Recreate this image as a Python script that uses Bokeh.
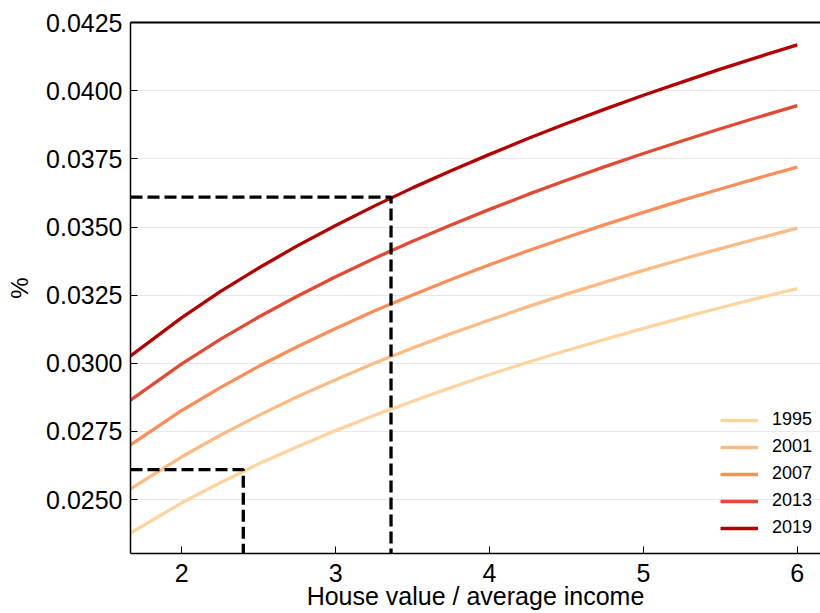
from bokeh.plotting import figure
from bokeh.models import (Range1d, FixedTicker, NumeralTickFormatter, Legend,
                          LegendItem, LinearAxis)
from bokeh.embed import file_html
from bokeh.resources import INLINE

# ---------------- data ----------------
x_values = [1.667, 2.0, 2.25, 2.5, 2.75, 3.0, 3.25, 3.5, 3.75, 4.0,
            4.25, 4.5, 4.75, 5.0, 5.25, 5.5, 5.75, 6.0]
years = ["1995", "2001", "2007", "2013", "2019"]
rate_1995 = [0.02377, 0.02488, 0.02562, 0.02631, 0.02694, 0.02753, 0.02809, 0.02861, 0.02911,
             0.02959, 0.03004, 0.03047, 0.03088, 0.03128, 0.03167, 0.03204, 0.03240, 0.03274]
rate_2001 = [0.02539, 0.02657, 0.02736, 0.02809, 0.02877, 0.02940, 0.03000, 0.03056, 0.03109,
             0.03159, 0.03208, 0.03254, 0.03298, 0.03341, 0.03382, 0.03421, 0.03459, 0.03496]
rate_2007 = [0.02701, 0.02827, 0.02911, 0.02989, 0.03061, 0.03128, 0.03192, 0.03251, 0.03308,
             0.03362, 0.03413, 0.03462, 0.03509, 0.03554, 0.03598, 0.03640, 0.03681, 0.03720]
rate_2013 = [0.02865, 0.02998, 0.03088, 0.03170, 0.03246, 0.03318, 0.03385, 0.03448, 0.03508,
             0.03565, 0.03620, 0.03672, 0.03722, 0.03770, 0.03816, 0.03861, 0.03904, 0.03946]
rate_2019 = [0.03027, 0.03168, 0.03263, 0.03350, 0.03431, 0.03506, 0.03577, 0.03644, 0.03707,
             0.03767, 0.03825, 0.03880, 0.03933, 0.03984, 0.04032, 0.04080, 0.04125, 0.04169]
series = [rate_1995, rate_2001, rate_2007, rate_2013, rate_2019]
colors = ["#fdd49e", "#fdbb84", "#fc8d59", "#e34a33", "#b30000"]

x_ticks = [2, 3, 4, 5, 6]
y_ticks = [0.025, 0.0275, 0.03, 0.0325, 0.035, 0.0375, 0.04, 0.0425]

guide_x = [2.4, 3.36]
guide_y = [0.0261, 0.0361]

x_start, x_end = 1.667, 6.151
y_start, y_end = 0.02302, 0.04251

FONT = "Liberation Sans"

# ---------------- figure ----------------
p = figure(width=820, height=613, output_backend="svg", toolbar_location=None,
           x_range=Range1d(x_start, x_end), y_range=Range1d(y_start, y_end),
           min_border_left=130, min_border_right=0, min_border_top=22,
           min_border_bottom=60, background_fill_color="white",
           border_fill_color="white")
p.outline_line_color = None

renderers = []
for vals, col in zip(series, colors):
    r = p.line(x_values, vals, line_color=col, line_width=3.3)
    renderers.append(r)

# guide dashed lines
for gx, gy in zip(guide_x, guide_y):
    p.line([x_start, gx, gx], [gy, gy, y_start], line_color="black",
           line_width=3.3, line_dash="12 5")

# axes
p.xaxis.ticker = FixedTicker(ticks=x_ticks)
p.yaxis.ticker = FixedTicker(ticks=y_ticks)
p.yaxis.formatter = NumeralTickFormatter(format="0.0000")
for ax in [p.xaxis[0], p.yaxis[0]]:
    ax.major_tick_in = 7
    ax.major_tick_out = 0
    ax.minor_tick_line_color = None
    ax.axis_line_color = "black"
    ax.axis_line_width = 1.5
    ax.major_tick_line_color = "black"
    ax.major_label_text_font = FONT
    ax.major_label_text_font_size = "25px"
    ax.major_label_text_color = "black"
p.xaxis.major_label_standoff = 10
p.yaxis.major_label_standoff = 8
p.yaxis.axis_label = "%"
p.yaxis.axis_label_text_font = FONT
p.yaxis.axis_label_text_font_size = "24px"
p.yaxis.axis_label_text_font_style = "normal"
p.yaxis.axis_label_text_color = "black"
p.yaxis.axis_label_standoff = 10

p.xaxis.axis_label = "House value / average income"
p.xaxis.axis_label_text_font = FONT
p.xaxis.axis_label_text_font_size = "25px"
p.xaxis.axis_label_text_font_style = "normal"
p.xaxis.axis_label_text_color = "black"
p.xaxis.axis_label_standoff = -3

top_axis = LinearAxis(ticker=FixedTicker(ticks=[]), major_label_text_font_size="0px",
                      major_tick_in=0, major_tick_out=0, minor_tick_in=0, minor_tick_out=0,
                      axis_line_color="black", axis_line_width=2)
p.add_layout(top_axis, "above")

p.xgrid.visible = False
p.ygrid.ticker = FixedTicker(ticks=y_ticks)
p.ygrid.grid_line_color = "#e8e8e8"
p.ygrid.grid_line_width = 1

legend = Legend(items=[LegendItem(label=y, renderers=[r]) for y, r in zip(years, renderers)],
                location=(590, 15), background_fill_alpha=0, border_line_alpha=0,
                label_text_font=FONT, label_text_font_size="18px", label_text_color="black",
                glyph_width=38, glyph_height=20, label_height=20, label_standoff=14,
                spacing=6, padding=0, margin=0)
p.add_layout(legend, "center")

open("out.html", "w").write(file_html(p, INLINE))
